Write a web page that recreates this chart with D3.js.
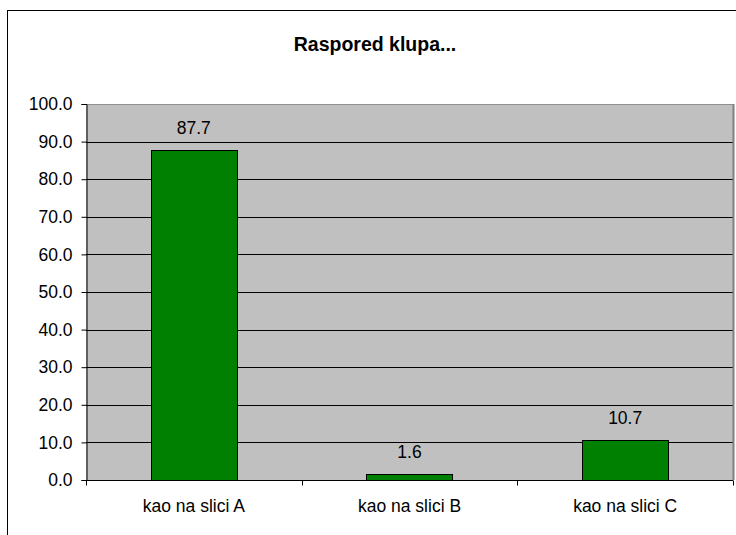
<!DOCTYPE html>
<html><head><meta charset="utf-8">
<script src="https://cdn.jsdelivr.net/npm/d3@7"></script>
<style>body{margin:0;background:#fff}svg{display:block}text{font-family:Arial,"Liberation Sans",sans-serif}</style>
</head><body>
<svg id="c" width="736" height="535"></svg>
<script>
const title = "Raspored klupa...";
const categories = ["kao na slici A", "kao na slici B", "kao na slici C"];
const values = [87.7, 1.6, 10.7];
const yTicks = [0, 10, 20, 30, 40, 50, 60, 70, 80, 90, 100];

const svg = d3.select("#c");
const L = 86, R = 733, T = 104, B = 480;
const FS = 17.5;

// outer frame
svg.append("rect").attr("x", 7.5).attr("y", 10.5).attr("width", 740).attr("height", 540)
  .attr("fill", "#fff").attr("stroke", "#000").attr("stroke-width", 1);

svg.append("text").attr("x", 375).attr("y", 51).attr("text-anchor", "middle")
  .attr("font-size", 19.5).attr("font-weight", "bold").text(title);

const x = d3.scaleBand().domain(categories).range([L, R]);
const y = d3.scaleLinear().domain([0, 100]).range([B, T]);

svg.append("rect").attr("x", L).attr("y", T).attr("width", R - L).attr("height", B - T)
  .attr("fill", "#c0c0c0");

// gridlines
svg.append("g").selectAll("line").data(yTicks.filter(d => d > 0 && d < 100)).join("line")
  .attr("x1", L).attr("x2", R).attr("y1", d => Math.round(y(d)) + 0.5).attr("y2", d => Math.round(y(d)) + 0.5)
  .attr("stroke", "#000");

// plot area border (top/right)
svg.append("line").attr("x1", L).attr("x2", R).attr("y1", T + 0.5).attr("y2", T + 0.5).attr("stroke", "#909090");
svg.append("line").attr("x1", R + 0.5).attr("x2", R + 0.5).attr("y1", T).attr("y2", B).attr("stroke", "#808080").attr("stroke-width", 2);

// bars
const bw = x.bandwidth() * 0.4;
svg.append("g").selectAll("rect").data(values).join("rect")
  .attr("x", (d, i) => Math.round(x(categories[i]) + x.bandwidth() / 2 - bw / 2) + 0.5)
  .attr("y", d => Math.round(y(d)) + 0.5)
  .attr("width", Math.round(bw))
  .attr("height", d => Math.round(y(0)) - Math.round(y(d)))
  .attr("fill", "#008000").attr("stroke", "#000").attr("stroke-width", 1);

// value labels
svg.append("g").selectAll("text").data(values).join("text")
  .attr("x", (d, i) => x(categories[i]) + x.bandwidth() / 2)
  .attr("y", d => y(d) - 16)
  .attr("text-anchor", "middle").attr("font-size", FS)
  .text(d => d.toFixed(1));

// y axis
const yAxis = d3.axisLeft(y).tickValues(yTicks).tickFormat(d => d.toFixed(1)).tickSize(5).tickPadding(9);
const gy = svg.append("g").attr("transform", `translate(${L + 0.5},0)`).call(yAxis);
gy.selectAll("text").attr("font-size", FS).attr("fill", "#000").style("font-family", "Arial, 'Liberation Sans', sans-serif");
gy.selectAll("line,path").attr("stroke", "#000");

// x axis
const xAxis = d3.axisBottom(x).tickSize(0).tickPadding(19);
const gx = svg.append("g").attr("transform", `translate(0,${B + 0.5})`).call(xAxis);
gx.selectAll("text").attr("font-size", FS).attr("fill", "#000").style("font-family", "Arial, 'Liberation Sans', sans-serif");
gx.select("path").attr("stroke", "#000").attr("d", `M${L},0H${R}`);
// category boundary ticks
const bounds = categories.map(c => x(c)).concat([R]);
gx.append("g").selectAll("line").data(bounds).join("line")
  .attr("x1", d => Math.round(d) + 0.5).attr("x2", d => Math.round(d) + 0.5).attr("y1", 0).attr("y2", 5).attr("stroke", "#000");
</script>
</body></html>
